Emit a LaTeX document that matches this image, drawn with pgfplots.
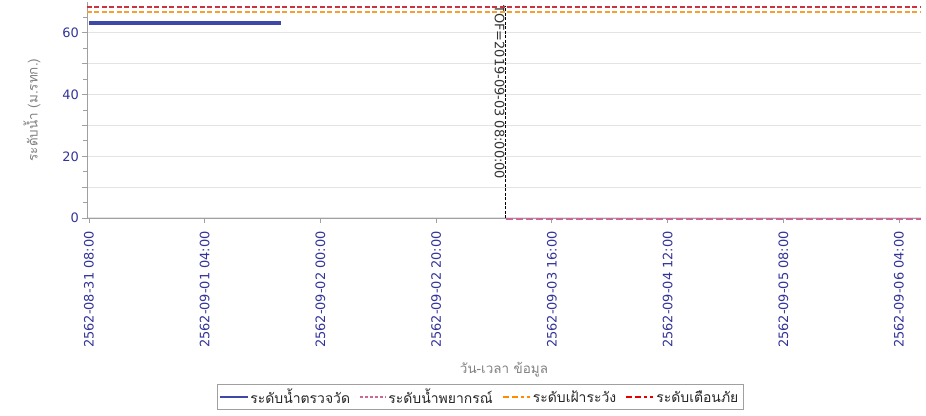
\documentclass[border=0pt]{standalone}
\usepackage{fontspec}
\setmainfont{DejaVu Sans}
\newfontfamily\thai[Script=Thai]{Loma}
\usepackage{pgfplots}
\pgfplotsset{compat=1.18}
\definecolor{tickc}{HTML}{333399}
\definecolor{meas}{HTML}{3F48A8}
\definecolor{fc}{HTML}{CC6699}
\definecolor{warnc}{HTML}{F5A030}
\definecolor{alertc}{HTML}{CC3340}
\definecolor{gridc}{HTML}{E3E3E3}
\definecolor{axc}{HTML}{A0A0A0}
\pgfplotsset{
  legA/.style={legend image code/.code={\draw[draw=meas, line width=1.2bp] (0bp,0bp) -- (28bp,0bp);}},
  legB/.style={legend image code/.code={\draw[draw=fc, line width=1.3bp, dash pattern=on 3bp off 2bp] (0bp,0bp) -- (26bp,0bp);}},
  legC/.style={legend image code/.code={\draw[draw=orange!90!yellow, line width=2.2bp, dash pattern=on 6bp off 3bp on 6bp off 3bp on 3bp off 3bp] (0bp,0bp) -- (27bp,0bp);}},
  legD/.style={legend image code/.code={\draw[draw=red!90!black, line width=2.2bp, dash pattern=on 6bp off 3bp on 6bp off 3bp on 3bp off 3bp] (0bp,0bp) -- (27bp,0bp);}},
}
\begin{document}
\begin{tikzpicture}
\path[use as bounding box] (-87bp,-198bp) rectangle (839bp,218bp);
\begin{axis}[
  scale only axis, width=834bp, height=216bp,
  xmin=-0.35, xmax=143.8, ymin=0, ymax=70,
  clip=false,
  axis x line*=bottom, axis y line*=left,
  axis line style={axc, line width=0.8bp},
  tick style={axc, line width=0.8bp},
  tick align=outside,
  major tick length=5bp, minor tick length=4bp,
  xtick={0,20,...,140},
  xticklabels={2562-08-31 08:00, 2562-09-01 04:00, 2562-09-02 00:00, 2562-09-02 20:00, 2562-09-03 16:00, 2562-09-04 12:00, 2562-09-05 08:00, 2562-09-06 04:00},
  x tick label style={rotate=90, anchor=east, inner sep=2bp, xshift=-6bp, font=\fontsize{13}{15}\selectfont},
  ytick={0,10,...,60},
  yticklabels={0,,20,,40,,60},
  minor ytick={5,15,...,65},
  ymajorgrids=true,
  major grid style={gridc, line width=1.2bp},
  tick label style={text=tickc, font=\fontsize{13}{15}\selectfont},
  y tick label style={inner sep=3bp},
  xlabel={\thai วัน-เวลา ข้อมูล},
  xlabel style={at={(axis description cs:0.5,-0.704)}, anchor=center, text=gray, font=\fontsize{13.5}{15}\selectfont},
  ylabel={\thai ระดับน้ำ (ม.รทก.)},
  ylabel style={at={(axis description cs:-0.066,0.5)}, anchor=center, text=gray, font=\fontsize{13.5}{15}\selectfont},
  legend columns=4,
  legend style={at={(axis description cs:0.471,-0.829)}, anchor=center, draw=axc, font=\thai\fontsize{14}{16}\selectfont, text=black!85, inner sep=2.5bp,
    /tikz/every even column/.append style={column sep=7bp}},
]
\addplot[draw=meas, line width=3.5bp, forget plot] coordinates {
 (0,63.2) (1,63.2) (2,63.2) (3,63.2) (4,63.2) (5,63.2) (6,63.2) (7,63.2) (8,63.2) (9,63.2)
 (10,63.2) (11,63.2) (12,63.2) (13,63.2) (14,63.2) (15,63.2) (16,63.2) (17,63.2) (18,63.2)
 (19,63.2) (20,63.2) (21,63.2) (22,63.2) (23,63.2) (24,63.2) (25,63.2) (26,63.2) (27,63.2)
 (28,63.2) (29,63.2) (30,63.2) (31,63.2) (32,63.2) (33,63.2) (33.2,63.2)};
% TOF line
\addplot[draw=black, line width=1bp, dash pattern=on 3bp off 1.5bp, forget plot] coordinates {(72,0) (72,68.8)};
\node[rotate=-90, anchor=north west, inner sep=1bp, xshift=-6bp, font=\fontsize{13}{15}\selectfont, text=black!80] at (axis cs:72,67.4) {TOF=2019-09-03 08:00:00};
% legend entries
\addlegendimage{legA}
\addlegendentry{ระดับน้ำตรวจวัด}
\addplot[draw=fc, line width=2.6bp, dash pattern=on 7bp off 3bp, legB] coordinates {
 (72,-0.3) (84,-0.3) (96,-0.3) (108,-0.3) (120,-0.3) (132,-0.3) (143.8,-0.3)};
\addlegendentry{ระดับน้ำพยากรณ์}
\addplot[draw=warnc, line width=2bp, dash pattern=on 5bp off 2.5bp, legC] coordinates {(-0.35,66.8) (143.8,66.8)};
\addlegendentry{ระดับเฝ้าระวัง}
\addplot[draw=alertc, line width=2bp, dash pattern=on 5bp off 2.5bp, legD] coordinates {(-0.35,68.4) (143.8,68.4)};
\addlegendentry{ระดับเตือนภัย}
\end{axis}
\end{tikzpicture}
\end{document}
